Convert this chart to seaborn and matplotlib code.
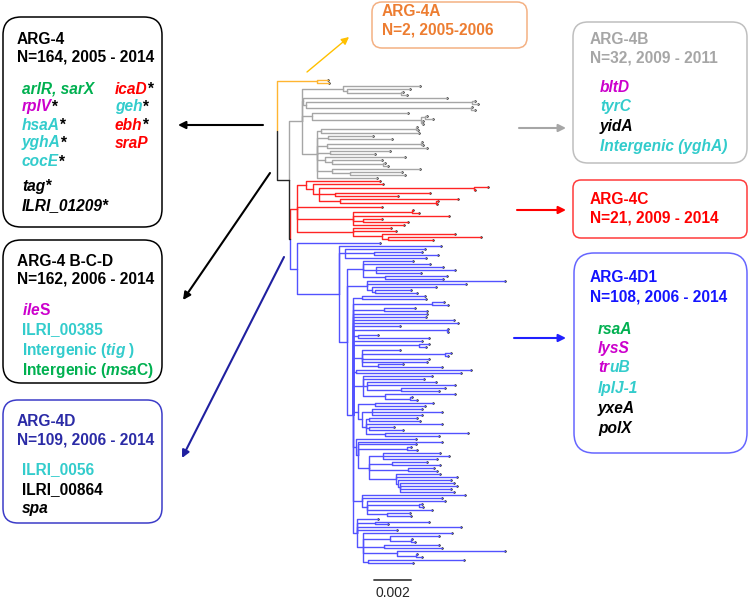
import seaborn as sns
import pandas as pd
import matplotlib.pyplot as plt
from matplotlib.patches import FancyBboxPatch

# --------------------- tree data ---------------------
# depths are root-to-node distances in units of 1e-4 substitutions/site
# a tip is just its depth, an internal node is [node depth, child, child, ...]
orange_clade = [22, 28, 28.3]

grey_clade = [13.6,
              [36, 77.9, [38, 72.5, [67.5, 68.7, 70.9]]],
              [14.2, 92.7, [15.8, [106.3, 107.9, 109.5], [105.5, 106.3, 107.9]]],
              [19.1, 71.4, [78.5, [80.5, 81.8, 85.0], [79.2, 79.6, 79.8]]],
              [21.8,
               [24.0, [75.5, 76.3, 76.8], 77.4],
               [28.0, 52.3, 62.7],
               [27.0, [78.5, 79.0, 79.6], 81.8],
               [29.0, 61.6, 53.4],
               [26.0, 69.8, [30.0, 57.2, [58.0, 58.9, 60.5]]],
               [30.0, 78.0, [40.0, 68.1, 69.8]],
               54.5]]

red_clade = [11,
             [15.8, 56.1,
              [19.6, 57.8,
               [22.9, [107.3, 115.0, 107.9],
                [31.6, 83.4, 65.9],
                [34.3, 98.6, [86.5, 87.7, 87.2]]]]],
             57.2,
             [41.4, [73.5, 74.1, 77.4], 93.7, [46.9, 57.2, 71.4], 69.2],
             [41.4, 62.1, 65.0, [57.2, 97.0, [60.5, 111.2, 85.0]]]]

spine_upper = [[46.3, 80.7, 81.0], [84.5, 91.0, 93.2], [58.3, 75.2, 81.8],
               81.5, 81.2, 96.5, 98.6, 67.0,
               [92.5, 93.2, 93.2], [44.1, 55.0, 82.8], 79.0, [77.4, 82.8, 81.2],
               [46.3, 67.0, [91.6, 94.8, 93.2], 82.8, 82.0, [55.0, 68.7, 89.9]],
               [43.0, 105.7, 100.3],
               [46.9, 84.5, 80.1, [49.0, 86.7, 97.0, [67.6, 91.6, 88.3]],
                [58.9, 97.0, [72.5, 73.6, 76.3]]]]

spine_lower = [[44.0, [53.4, 85.0, 80.7],
                [46.3, [52.0, 79.0, 89.9, 79.0],
                 [48.5, [50.0, 76.3, 77.9], 89.9, [50.0, 63.8, 68.7], [58.9, 104.1, 88.3]]]],
               [43.0, 75.8,
                [44.1, 89.9, 75.8, [70.9, 73.0, 76.3],
                 [50.1, [57.8, 88.8, 93.7, 87.2], [62.7, 81.8, 88.8], [71.4, 85.6, 87.2],
                  [64.9, 88.8, 98.1, [65.9, 94.8, [67.0, 96.5, 98.1, 94.8, 96.5]]]]]],
               [46.3, 102.5, 89.9, [49.0, 91.6, [77.4, 79.0, 79.3], 84.5, [59.9, 72.5, 72.8]]],
               [43.6, 55.0, [53.4, 82.8, 60.5], 100.3, 65.4,
                [46.9, 95.4, [61.6, 88.3, [73.0, 73.6, 75.2]], [58.3, 88.3, 89.9],
                 [65.4, 124.3, [75.8, 76.3, 79.0]], [49.6, 101.9, 74.1]]]]

blue_4d1 = [33.8, 89.4,
            [37.1, 80.7, [52.9, 79.0, 87.7], 81.2],
            [38.1,
             [46.9, 74.1, 83.4, [54.0, 90.5, 97.0, 78.5], [59.0, 92.7, 90.5]],
             [49.0, 124.3, 103.0, [51.5, 86.7, [53.5, 73.0, 76.3]]],
             [41.4] + spine_upper + spine_lower]]

blue_clade = [11, 56.1, blue_4d1]
node_a_depth = 6.5
node_b_depth = 7.0
scale_bar = 0.002

tree = [0, ("ARG-4A", orange_clade),
        [node_a_depth, ("ARG-4B", grey_clade),
         [node_b_depth, ("ARG-4C", red_clade), ("ARG-4D", blue_clade)]]]

clade_colors = {"backbone": "#262626", "ARG-4A": "#FFB531", "ARG-4B": "#A6A6A6",
                "ARG-4C": "#FF2424", "ARG-4D": "#5252FF"}

# --------------------- layout the tree ---------------------
rows, tips = [], []


def walk(node, clade):
    if isinstance(node, tuple):
        clade, node = node
    if not isinstance(node, list):
        tips.append({"x": node, "y": len(tips)})
        return node, len(tips) - 1, clade
    depth = node[0]
    kids = [walk(child, clade) for child in node[1:]]
    y = (kids[0][1] + kids[-1][1]) / 2
    for kx, ky, kclade in kids:
        seg = len(rows)
        for px, py in [(depth, y), (depth, ky), (kx, ky)]:
            rows.append({"seg": seg, "x": px, "y": py, "clade": kclade})
    return depth, y, clade


walk(tree, "backbone")
seg_df = pd.DataFrame(rows)
tip_df = pd.DataFrame(tips)

# --------------------- figure ---------------------
sns.set_theme(style="white")
plt.rcParams["font.family"] = ["Liberation Sans", "DejaVu Sans"]
plt.rcParams["mathtext.fontset"] = "custom"
plt.rcParams["mathtext.it"] = "Liberation Sans:italic:bold"
plt.rcParams["mathtext.rm"] = "Liberation Sans:bold"

W, H = 750, 600
ROOT_PX, PX_PER_UNIT = 277, 36.7 / 20
FIRST_TIP_PX, LAST_TIP_PX = 80, 563
TIP_STEP_PX = (LAST_TIP_PX - FIRST_TIP_PX) / (len(tips) - 1)

fig = plt.figure(figsize=(7.5, 6), dpi=100)
ax = fig.add_axes([0, 0, 1, 1])
sns.lineplot(data=seg_df, x="x", y="y", hue="clade", units="seg", estimator=None,
             sort=False, palette=clade_colors, linewidth=1.0, legend=False, ax=ax)
sns.scatterplot(data=tip_df, x="x", y="y", color="#111111", marker="o", s=3,
                linewidth=0, ax=ax)

ax.set_xlim(-ROOT_PX / PX_PER_UNIT, (W - ROOT_PX) / PX_PER_UNIT)
ax.set_ylim((H - FIRST_TIP_PX) / TIP_STEP_PX, -FIRST_TIP_PX / TIP_STEP_PX)
ax.axis("off")

# scale bar
bar = scale_bar * 1e4
bar_y = (580 - FIRST_TIP_PX) / TIP_STEP_PX
ax.plot([53, 53 + bar], [bar_y, bar_y], color="#404040", lw=1.3)
ax.text(53 + bar / 2, (593 - FIRST_TIP_PX) / TIP_STEP_PX, f"{scale_bar:g}",
        ha="center", va="center", fontsize=10, color="#262626")

# overlay in pixel coordinates for boxes and arrows
ov = fig.add_axes([0, 0, 1, 1])
ov.set_xlim(0, W)
ov.set_ylim(H, 0)
ov.axis("off")
ov.patch.set_alpha(0)

GREEN, MAGENTA, CYAN, RED = "#00B050", "#CC00CC", "#33CCCC", "#FF0000"
FS = 11.2


def box(x0, y0, x1, y1, color, r):
    ov.add_patch(FancyBboxPatch((x0, y0), x1 - x0, y1 - y0,
                                boxstyle=f"round,pad=0,rounding_size={r}",
                                fc="white", ec=color, lw=1.1))


def label(x, y, s, color, italic=False, star=False):
    t = ov.text(x, y, s, color=color, fontsize=FS, fontweight="bold",
                fontstyle="italic" if italic else "normal", va="center")
    if star:
        ov.annotate("*", xy=(1, 0.5), xycoords=t, va="center", ha="left",
                    fontsize=FS, fontweight="bold", color="black")
    return t


def arrow(start, end, color, lw=1.5):
    ov.annotate("", xy=end, xytext=start,
                arrowprops=dict(arrowstyle="-|>", color=color, lw=lw,
                                mutation_scale=11, shrinkA=0, shrinkB=0))


# ARG-4
box(3, 17, 162, 227, "black", 18)
label(17, 40, "ARG-4", "black")
label(17, 57, "N=164, 2005 - 2014", "black")
label(22, 89, "arlR, sarX", GREEN, italic=True)
label(22, 107, "rplV", MAGENTA, italic=True, star=True)
label(22, 125, "hsaA", CYAN, italic=True, star=True)
label(22, 143, "yghA", CYAN, italic=True, star=True)
label(22, 162, "cocE", CYAN, italic=True, star=True)
label(22, 187, "tag*", "black", italic=True)
label(22, 206, "ILRI_01209*", "black", italic=True)
label(115, 89, "icaD", RED, italic=True, star=True)
label(115, 107, "geh", CYAN, italic=True, star=True)
label(115, 125, "ebh", RED, italic=True, star=True)
label(115, 143, "sraP", RED, italic=True)

# ARG-4 B-C-D
box(3, 240, 162, 383, "black", 18)
label(17, 262, "ARG-4 B-C-D", "black")
label(17, 279, "N=162, 2006 - 2014", "black")
label(22, 310, r"$\mathit{ile}$S", MAGENTA)
label(22, 330, "ILRI_00385", CYAN)
label(22, 350, r"Intergenic ($\mathit{tig}$ )", CYAN)
label(22, 370, r"Intergenic ($\mathit{msa}$C)", GREEN)

# ARG-4D
box(3, 400, 162, 523, "#3C3CC8", 15)
label(17, 421, "ARG-4D", "#2B2BA6")
label(17, 440, "N=109, 2006 - 2014", "#2B2BA6")
label(22, 470, "ILRI_0056", CYAN)
label(22, 490, "ILRI_00864", "black")
label(22, 509, "spa", "black", italic=True)

# ARG-4A
box(372, 2, 527, 48, "#F4B183", 10)
label(382, 12, "ARG-4A", "#ED7D31")
label(382, 30, "N=2, 2005-2006", "#ED7D31")

# ARG-4B
box(573, 22, 747, 163, "#BFBFBF", 15)
label(590, 40, "ARG-4B", "#A6A6A6")
label(590, 58, "N=32, 2009 - 2011", "#A6A6A6")
label(600, 88, "bltD", MAGENTA, italic=True)
label(600, 107, "tyrC", CYAN, italic=True)
label(600, 127, "yidA", "black", italic=True)
label(600, 146, "Intergenic (yghA)", CYAN, italic=True)

# ARG-4C
box(573, 180, 747, 238, "#FF3B3B", 8)
label(590, 200, "ARG-4C", RED)
label(590, 218, "N=21, 2009 - 2014", RED)

# ARG-4D1
box(574, 253, 747, 453, "#6666FF", 20)
label(590, 278, "ARG-4D1", "#1414FF")
label(590, 297, "N=108, 2006 - 2014", "#1414FF")
label(598, 330, "rsaA", GREEN, italic=True)
label(598, 349, "lysS", MAGENTA, italic=True)
t = label(598, 368, "tr", MAGENTA, italic=True)
ov.annotate("uB", xy=(1, 0.5), xycoords=t, va="center", ha="left", fontsize=FS,
            fontweight="bold", fontstyle="italic", color=CYAN)
label(598, 388, "lplJ-1", CYAN, italic=True)
label(598, 408, "yxeA", "black", italic=True)
label(598, 428, "polX", "black", italic=True)

# arrows from the clades to the boxes
arrow((263, 125), (178, 125), "black")
arrow((270, 173), (183, 300), "black")
arrow((284, 257), (182, 458), "#2020A0")
arrow((307, 72), (349, 37), "#FFC000", lw=1.0)
arrow((519, 128), (566, 128), "#A6A6A6")
arrow((517, 210), (566, 210), "#FF0000")
arrow((514, 338), (566, 338), "#2020FF")

plt.savefig("out.png", dpi=100)
